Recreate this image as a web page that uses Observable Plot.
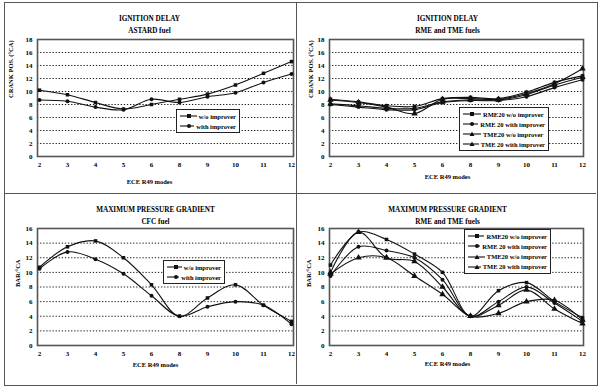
<!DOCTYPE html>
<html>
<head>
<meta charset="utf-8">
<script src="https://cdn.jsdelivr.net/npm/d3@7"></script>
<script src="https://cdn.jsdelivr.net/npm/@observablehq/plot@0.6"></script>
<style>
  body { margin: 0; background: white; }
  #wrap { position: relative; width: 600px; height: 387px; background: white; overflow: hidden; font-family: "Liberation Serif", serif; }
  .panel { position: absolute; }
  .border { position: absolute; border: 1px solid #555; }
  .legend { position: absolute; background: white; border: 1px solid #222; font: bold 6.5px "Liberation Serif", serif; color: #000; box-sizing: border-box; padding: 1px 3px; display: flex; flex-direction: column; justify-content: space-around; }
  .legend div { display: flex; align-items: center; white-space: nowrap; height: 10px; }
  .legend svg { margin-right: 2px; }
</style>
</head>
<body>
<div id="wrap"></div>
<script>
// ---- data ----
const modes = ["2","3","4","5","6","8","9","10","11","12"];

// Ignition delay, ASTARD fuel (°CA)
const idAstardWo   = [10.2, 9.5, 8.3, 7.3, 8.0, 8.8, 9.6, 11.0, 12.8, 14.6];
const idAstardWith = [8.7, 8.5, 7.6, 7.2, 8.8, 8.3, 9.2, 9.8, 11.4, 12.7];

// Ignition delay, RME and TME fuels (°CA)
const idRmeWo   = [8.8, 8.4, 7.8, 7.7, 8.9, 9.1, 8.9, 9.9, 11.4, 12.4];
const idRmeWith = [8.0, 7.6, 7.2, 7.2, 8.3, 8.6, 8.6, 9.2, 10.6, 11.8];
const idTmeWo   = [8.7, 8.3, 7.6, 6.6, 8.8, 8.9, 8.8, 9.7, 11.2, 13.5];
const idTmeWith = [8.1, 7.8, 7.4, 7.4, 8.4, 8.7, 8.7, 9.5, 11.0, 12.2];

// Maximum pressure gradient, CFC fuel (bar/°CA)
const mpgCfcWo   = [10.7, 13.5, 14.3, 12.0, 8.3, 4.0, 6.5, 8.3, 5.5, 3.3];
const mpgCfcWith = [10.5, 12.8, 11.8, 9.8, 6.8, 4.0, 5.3, 6.0, 5.5, 2.9];

// Maximum pressure gradient, RME and TME fuels (bar/°CA)
const mpgRmeWo   = [11.0, 15.5, 14.5, 12.5, 10.0, 4.0, 7.5, 8.6, 6.0, 3.8];
const mpgRmeWith = [9.5, 13.5, 13.0, 12.0, 9.0, 4.0, 6.0, 8.0, 5.8, 3.3];
const mpgTmeWo   = [10.0, 15.5, 12.0, 11.5, 8.0, 4.0, 5.5, 7.6, 5.0, 3.0];
const mpgTmeWith = [9.8, 12.0, 12.0, 9.5, 7.0, 4.0, 4.4, 6.0, 6.2, 3.5];

const labelsTwo = ["w/o improver", "with improver"];
const labelsFour = ["RME20 w/o improver", "RME 20 with improver", "TME20 w/o improver", "TME 20 with improver"];
const symbolsTwo = ["square", "circle"];
const symbolsFour = ["square", "circle", "triangle", "triangle"];

// ---- drawing ----
const wrap = document.getElementById("wrap");

function rows(values, name) {
  return values.map((v, i) => ({mode: modes[i], v, name}));
}

function panel(cfg) {
  const {left, top, width, height, ml, mr, mt, mb, yMax, series, names, symbols, t1, t2, ylabel, tdx, ydx} = cfg;
  const marks = [
    Plot.gridY(d3.range(2, yMax, 2), {stroke: "#000", strokeOpacity: 1, strokeWidth: 0.9, strokeDasharray: "1.3,1.8"}),
    Plot.frame({stroke: "#555", strokeWidth: 1.6}),
    Plot.axisX({tickSize: 0, tickPadding: 6, fontWeight: "bold"}),
    Plot.axisY({ticks: d3.range(0, yMax + 1, 2), tickSize: 0, tickPadding: 5, fontWeight: "bold"})
  ];
  series.forEach((s, i) => {
    const d = rows(s, names[i]);
    marks.push(Plot.line(d, {x: "mode", y: "v", curve: "catmull-rom", stroke: "#111", strokeWidth: 1.1}));
    marks.push(Plot.dot(d, {x: "mode", y: "v", symbol: () => symbols[i], r: symbols[i] === "triangle" ? 2.4 : 2, fill: "#111", stroke: "none"}));
  });
  marks.push(Plot.text([t1], {text: d => d, frameAnchor: "top", dy: -24 + (cfg.tdy || 0), dx: tdx, fontWeight: "bold", fontSize: 7.2}));
  marks.push(Plot.text([t2], {text: d => d, frameAnchor: "top", dy: -12 + (cfg.tdy || 0), dx: tdx, fontWeight: "bold", fontSize: 7.2}));
  marks.push(Plot.text(["ECE R49 modes"], {text: d => d, frameAnchor: "bottom", dy: cfg.xldy, dx: tdx, fontWeight: "bold", fontSize: 6.5}));
  marks.push(Plot.text([ylabel], {text: d => d, frameAnchor: "left", rotate: -90, dx: ydx, dy: cfg.yldy || 0, fontWeight: "bold", fontSize: 6.5}));

  const chart = Plot.plot({
    width, height,
    marginLeft: ml, marginRight: mr, marginTop: mt, marginBottom: mb,
    style: {fontFamily: "Liberation Serif", fontSize: "7px", background: "white", color: "#000", overflow: "visible"},
    x: {type: "point", domain: modes, padding: 0, label: null, axis: null},
    y: {domain: [0, yMax], label: null, axis: null},
    marks
  });
  const div = document.createElement("div");
  div.className = "panel";
  div.style.left = left + "px";
  div.style.top = top + "px";
  div.appendChild(chart);
  wrap.appendChild(div);
}

function symbolSvg(sym) {
  const ns = "http://www.w3.org/2000/svg";
  const svg = document.createElementNS(ns, "svg");
  svg.setAttribute("width", 18); svg.setAttribute("height", 6);
  const ln = document.createElementNS(ns, "line");
  ln.setAttribute("x1", 0); ln.setAttribute("x2", 18); ln.setAttribute("y1", 3); ln.setAttribute("y2", 3);
  ln.setAttribute("stroke", "#111"); ln.setAttribute("stroke-width", 1.1);
  svg.appendChild(ln);
  let m;
  if (sym === "square") {
    m = document.createElementNS(ns, "rect");
    m.setAttribute("x", 7); m.setAttribute("y", 1); m.setAttribute("width", 4); m.setAttribute("height", 4);
  } else if (sym === "circle") {
    m = document.createElementNS(ns, "circle");
    m.setAttribute("cx", 9); m.setAttribute("cy", 3); m.setAttribute("r", 2);
  } else {
    m = document.createElementNS(ns, "path");
    m.setAttribute("d", "M9,0.5L11.5,5H6.5Z");
  }
  m.setAttribute("fill", "#111");
  svg.appendChild(m);
  return svg;
}

function legend(x, y, w, h, names, symbols) {
  const box = document.createElement("div");
  box.className = "legend";
  Object.assign(box.style, {left: x + "px", top: y + "px", width: w + "px", height: h + "px"});
  names.forEach((n, i) => {
    const r = document.createElement("div");
    r.appendChild(symbolSvg(symbols[i]));
    r.appendChild(document.createTextNode(n));
    box.appendChild(r);
  });
  wrap.appendChild(box);
}

// top-left
panel({left: 0, top: 0, width: 296, height: 193, ml: 37, mr: 3, mt: 39, mb: 37, yMax: 18,
  series: [idAstardWo, idAstardWith], names: labelsTwo, symbols: symbolsTwo,
  t1: "IGNITION DELAY", t2: "ASTARD fuel", ylabel: "CRANK POS. (°CA)", tdx: -16, ydx: -27, xldy: 27});
// top-right
panel({left: 296, top: 0, width: 304, height: 193, ml: 33, mr: 17, mt: 39, mb: 37, yMax: 18,
  series: [idRmeWo, idRmeWith, idTmeWo, idTmeWith], names: labelsFour, symbols: symbolsFour,
  t1: "IGNITION DELAY", t2: "RME and TME fuels", ylabel: "CRANK POS. (°CA)", tdx: -9, ydx: -19, xldy: 22});
// bottom-left
panel({left: 0, top: 193, width: 296, height: 194, ml: 37, mr: 3, mt: 35, mb: 42, yMax: 16,
  series: [mpgCfcWo, mpgCfcWith], names: labelsTwo, symbols: symbolsTwo,
  t1: "MAXIMUM PRESSURE GRADIENT", t2: "CFC fuel", ylabel: "BAR/°CA", tdx: -10, tdy: 2, ydx: -20, xldy: 21});
// bottom-right
panel({left: 296, top: 193, width: 304, height: 194, ml: 33, mr: 17, mt: 35, mb: 42, yMax: 16,
  series: [mpgRmeWo, mpgRmeWith, mpgTmeWo, mpgTmeWith], names: labelsFour, symbols: symbolsFour,
  t1: "MAXIMUM PRESSURE GRADIENT", t2: "RME and TME fuels", ylabel: "BAR/°CA", tdx: -9, tdy: 2, ydx: -21, xldy: 20});

legend(176, 109, 64, 24, labelsTwo, symbolsTwo);
legend(459, 107, 90, 44, labelsFour, symbolsFour);
legend(163, 260, 62, 24, labelsTwo, symbolsTwo);
legend(464, 229, 87, 45, labelsFour, symbolsFour);

// panel borders
const b = document.createElement("div");
b.className = "border";
Object.assign(b.style, {left: "4px", top: "2px", width: "592px", height: "382px"});
wrap.appendChild(b);
const vl = document.createElement("div");
vl.className = "border";
Object.assign(vl.style, {left: "296px", top: "2px", width: "0px", height: "382px", borderWidth: "0 0 0 1px"});
wrap.appendChild(vl);
const hl = document.createElement("div");
hl.className = "border";
Object.assign(hl.style, {left: "4px", top: "193px", width: "592px", height: "0px", borderWidth: "1px 0 0 0"});
wrap.appendChild(hl);
</script>
</body>
</html>
